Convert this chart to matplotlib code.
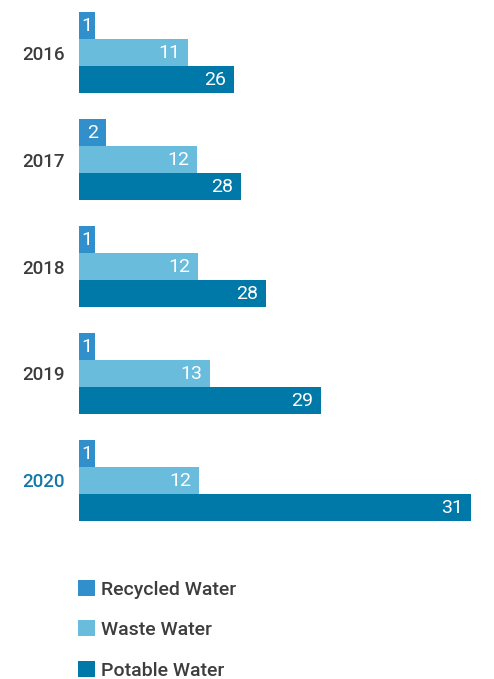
import matplotlib
matplotlib.use("Agg")
import matplotlib.pyplot as plt
from matplotlib.patches import Patch
import numpy as np

# ---- data ----
years = ["2016", "2017", "2018", "2019", "2020"]
series_names = ["Recycled Water", "Waste Water", "Potable Water"]
# value labels shown on bars
recycled_labels = [1, 2, 1, 1, 1]
waste_labels = [11, 12, 12, 13, 12]
potable_labels = [26, 28, 28, 29, 31]
# drawn bar lengths (arbitrary units)
recycled_len = [16, 27, 16, 16, 16]
waste_len = [109, 118, 119, 131, 120]
potable_len = [155, 162, 187, 242, 392]

colors = ["#318fcb", "#69bcdc", "#0078a8"]
year_color = "#3d3d3d"
highlight_color = "#1479a8"

W, H = 494, 679
fig = plt.figure(figsize=(W / 100, H / 100), dpi=100)
ax = fig.add_axes([79 / W, 1 - 521 / H, 1 - 79 / W, (521 - 12) / H])

h = 27 / 106.75
n = len(years)
idx = np.arange(n)
lens = [recycled_len, waste_len, potable_len]
labs = [recycled_labels, waste_labels, potable_labels]
for j in range(3):
    ys = idx + (j - 1) * h
    ax.barh(ys, lens[j], height=h, color=colors[j], edgecolor="none")
    for y, L, lab in zip(ys, lens[j], labs[j]):
        if L < 20:
            x, ha = L / 2, "center"
        else:
            x, ha = L - 8, "right"
        ax.text(x, y + 0.005, str(lab), ha=ha, va="center",
                color="white", fontsize=14, family="Roboto", fontweight="normal")

ax.set_xlim(0, 415)
ax.set_ylim(n - 1 + 1.5 * h, -1.5 * h)
ax.set_yticks(idx)
ax.set_yticklabels(years, family="Roboto", fontsize=13.5, fontweight="medium")
for i, t in enumerate(ax.get_yticklabels()):
    t.set_color(highlight_color if i == n - 1 else year_color)
ax.tick_params(axis="y", length=0, pad=10)
ax.set_xticks([])
for s in ax.spines.values():
    s.set_visible(False)

handles = [Patch(facecolor=c, edgecolor="none") for c in colors]
leg = fig.legend(handles, series_names, loc="upper left",
                 bbox_to_anchor=(78 / W, 1 - 580 / H),
                 frameon=False, prop={"family": "Roboto", "size": 14, "weight": "medium"},
                 handlelength=0.88, handleheight=0.88, handletextpad=0.3,
                 labelspacing=1.12, borderaxespad=0, borderpad=0)
for t in leg.get_texts():
    t.set_color(year_color)

fig.savefig("out.png", dpi=100)
